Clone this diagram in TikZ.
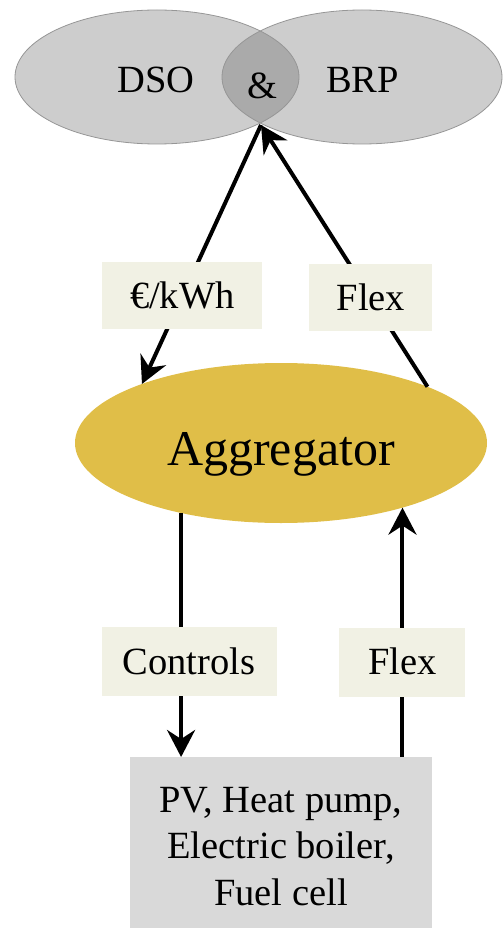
\documentclass[tikz,border=0pt]{standalone}
\usepackage{fontspec}
\setmainfont{Liberation Serif}
\usetikzlibrary{arrows.meta,shapes.geometric}
\definecolor{venn}{RGB}{205,205,205}
\definecolor{lens}{RGB}{170,170,170}
\definecolor{vennline}{RGB}{150,150,150}
\definecolor{aggcol}{RGB}{224,190,72}
\definecolor{lblcol}{RGB}{241,241,228}
\definecolor{devcol}{RGB}{217,217,217}
\begin{document}
\begin{tikzpicture}[x=1pt,y=-1pt,
  arr/.style={line width=4pt, -{Stealth[length=27pt,width=28pt,inset=9pt]}},
  lbl/.style={fill=lblcol, font=\fontsize{38.5}{46.5}\selectfont, inner sep=0pt,
    text height=25.5pt, text depth=0pt},
  vtext/.style={font=\fontsize{38.5}{46.5}\selectfont, inner sep=0pt, anchor=base},
  vennshape/.style={ellipse, draw=vennline, line width=0.8pt, inner sep=0pt, outer sep=0pt}]
\useasboundingbox (0,0) rectangle (503,928);
% Venn
\fill[venn] (157,77) ellipse [x radius=142, y radius=67];
\fill[venn] (362,77) ellipse [x radius=140, y radius=67];
\begin{scope}
  \clip (157,77) ellipse [x radius=142, y radius=67];
  \fill[lens] (362,77) ellipse [x radius=140, y radius=67];
\end{scope}
\node[vennshape, minimum width=284, minimum height=134] (dso) at (157,77) {};
\node[vennshape, minimum width=280, minimum height=134] (brp) at (362,77) {};
\node[vtext] (dsot) at (156,93) {DSO};
\node[vtext] (andt) at (262.5,99) {\&};
\node[vtext] (brpt) at (362.5,93) {BRP};
\coordinate (meet) at (261,125);
% Aggregator
\node[ellipse, fill=aggcol, minimum width=412, minimum height=160, inner sep=0pt, outer sep=0pt] (agg) at (281,443) {};
\node[font=\fontsize{50}{60}\selectfont, inner sep=0pt, anchor=base] (aggt) at (281,465) {Aggregator};
% Devices
\node[fill=devcol, minimum width=302, minimum height=171, inner sep=0pt, outer sep=0pt] (dev) at (281,842.5) {};
\node[font=\fontsize{38.5}{46.5}\selectfont, align=center, inner sep=0pt] (devt) at (281,846.5) {PV, Heat pump,\\Electric boiler,\\Fuel cell};
% Connectors
\draw[arr] (meet) -- node[lbl, pos=0.66, minimum width=160, minimum height=67] (eur) {€/kWh} (agg.157);
\draw[arr] (agg.21.7) -- node[lbl, pos=0.34, minimum width=123, minimum height=67] (flexa) {Flex} (meet);
\draw[arr] (agg.215) -- node[lbl, pos=0.61, minimum width=175, minimum height=69, xshift=8] (ctrl) {Controls} (agg.215 |- dev.north);
\draw[arr] (dev.north -| agg.332.3) -- node[lbl, pos=0.38, minimum width=126, minimum height=69] (flexb) {Flex} (agg.332.3);
\end{tikzpicture}
\end{document}
